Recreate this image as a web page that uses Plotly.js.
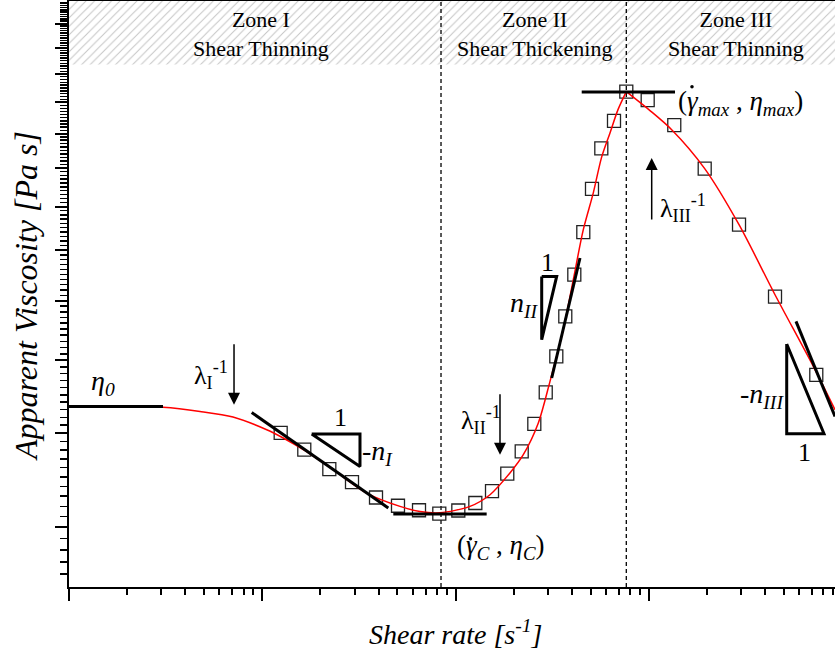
<!DOCTYPE html>
<html><head><meta charset="utf-8">
<script src="https://cdn.plot.ly/plotly-3.0.1.min.js"></script>
<style>html,body{margin:0;padding:0;background:#fff}#chart{width:835px;height:656px}</style>
</head><body><div id="chart"></div>
<script>
// Experimental points (shear rate, apparent viscosity), log-log schematic units
const shearRate = [1.245,1.649,2.222,2.911,3.875,5.035,6.467,8.236,10.33,12.65,15.43,18.51,21.98,25.54,29.26,33.19,36.94,41.13,45.78,50.77,56.73,65.99,76.40,98.58,135.3,194.4,292.6,449.2,734.5];
const viscosity = [4.005,3.804,3.585,3.446,3.287,3.205,3.161,3.128,3.159,3.232,3.352,3.535,3.784,4.116,4.533,5.061,5.718,6.497,7.398,8.444,9.561,10.40,11.37,11.08,10.26,8.985,7.569,6.074,4.781];
// Model fit (red curve); peak is at fitPeakIndex
const fitRate = [0.1,0.1836,0.3064,0.4762,0.7054,1.054,1.284,1.663,2.330,3.468,5.157,6.544,8.305,11.87,15.07,19.11,22.40,26.79,30.79,36.07,40.64,45.78,51.57,56.86,62.92,69.21,76.40,101.3,131.2,194.4,292.6,449.2,708.8,917.9];
const fitVisc = [4.343,4.339,4.330,4.276,4.204,4.044,3.943,3.793,3.578,3.332,3.199,3.149,3.137,3.199,3.315,3.543,3.746,4.128,4.688,5.491,6.399,7.455,8.342,9.292,10.02,10.76,11.37,10.73,10.12,8.985,7.569,6.110,4.908,4.299];
const fitPeakIndex = 26;
// Zone boundaries (critical and maximum shear rate)
const zoneBounds = [8.405, 76.40];
const zoneNames = ['Zone I<br>Shear Thinning', 'Zone II<br>Shear Thickening', 'Zone III<br>Shear Thinning'];
const bandVisc = [12.35, 15];
// Tangent / asymptote lines
const tanEta0X = [0.1, 0.3064],  tanEta0Y = [4.343, 4.343];
const tanIX = [0.8814, 4.486],   tanIY = [4.263, 3.183];
const tanCX = [4.761, 14.48],    tanCY = [3.125, 3.125];
const tanIIX = [31.42, 44.01],   tanIIY = [4.737, 6.837];
const tanMaxX = [44.92, 136.5],  tanMaxY = [11.36, 11.36];
const tanIIIX = [576.8, 917.9],  tanIIIY = [5.632, 4.212];
// Slope triangles
const triIX = [1.801, 3.202, 3.202, 1.801],   triIY = [3.992, 3.992, 3.614, 3.992];
const triIIX = [27.89, 33.34, 27.89, 27.89],  triIIY = [6.462, 6.462, 5.325, 6.462];
const triIIIX = [516.4, 516.4, 805.0, 516.4], triIIIY = [5.256, 3.995, 3.995, 5.256];
// Relaxation-time arrows (tip positions)
const arrowRate = [0.714, 16.97, 103.4];
const arrowVisc = [4.365, 3.746, 9.284];
// Over-dots of the shear-rate symbols in the two labels
const gammaDotRate = [167.1, 11.94];
const gammaDotVisc = [11.54, 2.898];
// Axis ticks
const xMajorTicks = [0.1, 1, 10, 100];
const yMajorTicks = [3,4,5,6,7,8,9,10,11,12,13,14];

const xRange = [0.1, 917.9], yRange = [2.5, 15];
const xMinor = [];
xMajorTicks.forEach(d => { for (let k = 2; k <= 9; k++) { const v = d * k; if (v <= xRange[1]) xMinor.push(v); } });
const yMinor = [];
for (let i = 26; i < 150; i++) { if (i % 10 !== 0) yMinor.push(i / 10); }

const FONT = 'Liberation Serif, Times New Roman, serif';
const L = 69, T = 1, W = 766, H = 586;
function P(px, py) { return { x: (px - L) / W, y: (T + H - py) / H, xref: 'paper', yref: 'paper' }; }

const lineTrace = (x, y, w, extra) => Object.assign({ x, y, type: 'scatter', mode: 'lines', line: { color: 'black', width: w }, hoverinfo: 'skip' }, extra || {});

const traces = [
  { x: [xRange[0], 1000, 1000, xRange[0], xRange[0]], y: [bandVisc[0], bandVisc[0], bandVisc[1], bandVisc[1], bandVisc[0]],
    type: 'scatter', mode: 'lines', fill: 'toself', fillcolor: 'white', line: { width: 0 },
    fillpattern: { shape: '/', fgcolor: '#c4c4c4', bgcolor: 'white', size: 6, solidity: 0.16 }, hoverinfo: 'skip' },
  lineTrace([zoneBounds[0], zoneBounds[0]], yRange, 1.3, { line: { color: 'black', width: 1.3, dash: '4px,3px' } }),
  lineTrace([zoneBounds[1], zoneBounds[1]], yRange, 1.3, { line: { color: 'black', width: 1.3, dash: '4px,3px' } }),
  { x: shearRate, y: viscosity, type: 'scatter', mode: 'markers',
    marker: { symbol: 'square-open', size: 13, color: '#222', line: { width: 1.3 } } },
  { x: fitRate.slice(0, fitPeakIndex + 1), y: fitVisc.slice(0, fitPeakIndex + 1), type: 'scatter', mode: 'lines',
    line: { color: 'red', width: 1.5, shape: 'spline', smoothing: 0.8 } },
  { x: fitRate.slice(fitPeakIndex), y: fitVisc.slice(fitPeakIndex), type: 'scatter', mode: 'lines',
    line: { color: 'red', width: 1.5, shape: 'spline', smoothing: 0.8 } },
  lineTrace(tanEta0X, tanEta0Y, 3),
  lineTrace(tanIX, tanIY, 3),
  lineTrace(tanCX, tanCY, 3),
  lineTrace(tanIIX, tanIIY, 3),
  lineTrace(tanMaxX, tanMaxY, 3),
  lineTrace(tanIIIX, tanIIIY, 3),
  lineTrace(triIX, triIY, 3),
  lineTrace(triIIX, triIIY, 3),
  lineTrace(triIIIX, triIIIY, 3),
  { x: gammaDotRate, y: gammaDotVisc, type: 'scatter', mode: 'markers', hoverinfo: 'skip',
    marker: { symbol: 'circle', size: 3.5, color: 'black', line: { width: 0 } } }
];

const txt = (px, py, text, size, extra) => Object.assign(P(px, py), { text, showarrow: false, font: { family: FONT, size: size, color: 'black' }, xanchor: 'center', yanchor: 'middle' }, extra || {});

const annotations = [
  txt(261, 34, zoneNames[0], 22),
  txt(534, 34, zoneNames[1], 22),
  txt(736, 34, zoneNames[2], 22),
  txt(103, 383, '<i>η<sub>0</sub></i>', 28),
  txt(340, 417, '1', 26),
  txt(377, 452, '-<i>n<sub>I</sub></i>', 28),
  txt(547, 262, '1', 26),
  txt(524, 305, '<i>n<sub>II</sub></i>', 28),
  txt(762, 395, '-<i>n<sub>III</sub></i>', 28),
  txt(804, 452, '1', 26),
  txt(211, 375, 'λ<sub>I</sub><sup>-1</sup>', 26),
  txt(481, 420, 'λ<sub>II</sub><sup>-1</sup>', 26),
  txt(683, 208, 'λ<sub>III</sub><sup>-1</sup>', 26),
  txt(676, 103, '(<i>γ<sub>max</sub></i> , <i>η<sub>max</sub></i>)', 27, { xanchor: 'left' }),
  txt(455, 547, '(<i>γ<sub>C</sub></i> , <i>η<sub>C</sub></i>)', 27, { xanchor: 'left' }),
  txt(455, 632, '<i>Shear rate [s<sup>-1</sup>]</i>', 28),
  txt(26, 296, '<i>Apparent Viscosity [Pa s]</i>', 32, { textangle: -90 })
];
const arrowOffsets = [-62, -62, 63];
arrowRate.forEach((r, i) => {
  annotations.push({ x: Math.log10(r), y: Math.log10(arrowVisc[i]), xref: 'x', yref: 'y', text: '', showarrow: true,
    arrowhead: 2, arrowsize: 1.6, arrowwidth: 1.5, arrowcolor: 'black', ax: 0, ay: arrowOffsets[i] });
});

const axisBase = { showgrid: false, zeroline: false, showline: true, linecolor: 'black', linewidth: 2,
  ticks: 'outside', tickcolor: 'black', tickwidth: 2, ticklen: 12, showticklabels: false, tickmode: 'array' };

const layout = {
  width: 835, height: 656, margin: { l: L, r: 0, t: T, b: 656 - T - H }, showlegend: false,
  paper_bgcolor: 'white', plot_bgcolor: 'white', font: { family: FONT, color: 'black' },
  xaxis: Object.assign({}, axisBase, { type: 'log', range: [Math.log10(xRange[0]), Math.log10(xRange[1])], tickvals: xMajorTicks, mirror: true,
    minor: { tickmode: 'array', tickvals: xMinor, ticks: 'outside', ticklen: 6, tickwidth: 2, tickcolor: 'black' } }),
  yaxis: Object.assign({}, axisBase, { type: 'log', range: [Math.log10(yRange[0]), Math.log10(yRange[1])], tickvals: yMajorTicks,
    minor: { tickmode: 'array', tickvals: yMinor, ticks: 'outside', ticklen: 7, tickwidth: 1.5, tickcolor: 'black' } }),
  annotations
};
Plotly.newPlot('chart', traces, layout, { displayModeBar: false, staticPlot: true });
</script></body></html>
